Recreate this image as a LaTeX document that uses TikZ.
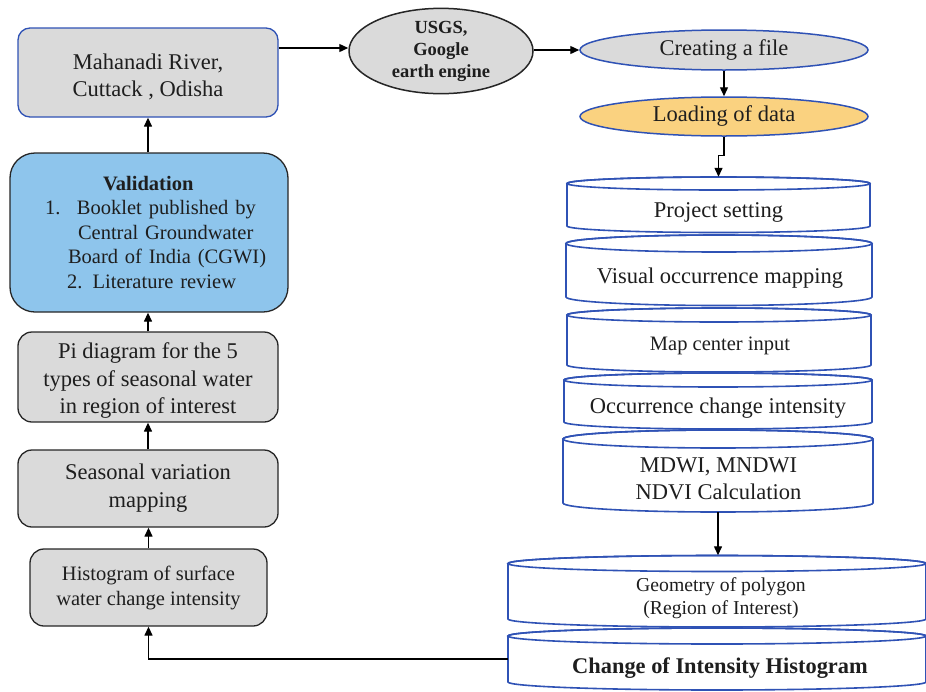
\documentclass[tikz,border=0pt]{standalone}
\usepackage{fontspec}
\setmainfont{Liberation Serif}
\usetikzlibrary{arrows.meta,shapes.geometric}
\definecolor{boxgray}{HTML}{DADADA}
\definecolor{valblue}{HTML}{8EC5EC}
\definecolor{loadorange}{HTML}{FAD280}
\definecolor{edgeblue}{HTML}{2F52B5}
\definecolor{txt}{HTML}{1E1E1E}
% #1 name, #2 x1, #3 x2, #4 y of top ellipse centre, #5 y of bottom arc centre, #6 ellipse y radius
\newcommand\cylbox[6]{%
  \pgfmathsetmacro\cxx{(#2+#3)/2}%
  \pgfmathsetmacro\rxx{(#3-#2)/2}%
  \pgfmathsetmacro\cyy{(#4+#5)/2}%
  \pgfmathsetmacro\hhh{#5-#4+2*#6}%
  \filldraw[cyl] (#2,#4) -- (#2,#5)
    arc[start angle=180,end angle=360,x radius=\rxx pt,y radius=#6pt]
    -- (#3,#4)
    arc[start angle=0,end angle=180,x radius=\rxx pt,y radius=#6pt] -- cycle;
  \draw[cyl,fill=none] (\cxx,#4) ellipse[x radius=\rxx pt,y radius=#6pt];
  \node[cylframe,minimum width=2*\rxx pt,minimum height=\hhh pt] (#1) at (\cxx,\cyy) {};%
}
\begin{document}
\begin{tikzpicture}[x=1pt,y=-1pt,
  lbox/.style={draw=black!85, line width=1.3pt, fill=boxgray, rounded corners=14pt,
    inner sep=0pt, align=center, text=txt},
  ellbox/.style={ellipse, draw=edgeblue, line width=1.5pt, inner sep=0pt, text=txt,
    font=\fontsize{22.5}{27}\selectfont},
  arr/.style={line width=1.3pt, draw=black, -{Triangle[length=9pt,width=8pt]}},
  cyl/.style={draw=edgeblue, line width=1.6pt, fill=white},
  cylframe/.style={inner sep=0pt, draw=none},
  cyltext/.style={anchor=base, inner sep=0pt, text=txt, align=center},
]
\useasboundingbox (0,0) rectangle (926,691);

% ---------- left column ----------
\node[lbox, draw=edgeblue, rounded corners=12pt, minimum width=260pt, minimum height=89pt,
  font=\fontsize{22.5}{27}\selectfont] (mah) at (148,72.5)
  {\rule{0pt}{23.5pt}Mahanadi River,\\Cuttack , Odisha};

\node[lbox, fill=valblue, rounded corners=25pt, minimum width=278pt, minimum height=159pt,
  text width=240pt, align=left, font=\fontsize{20.5}{24.5}\selectfont] (val) at (149,232.5)
  {\hspace*{74pt}\textbf{Validation}\\
   \hspace*{16pt}\makebox[32pt][l]{1.}Booklet published by\\
   \hspace*{49pt}Central Groundwater\\
   \hspace*{39pt}Board of India (CGWI)\\
   \hspace*{38pt}2. Literature review};

\node[lbox, minimum width=260pt, minimum height=90pt,
  font=\fontsize{22.5}{27.5}\selectfont] (pi) at (148,377)
  {\rule{0pt}{23pt}Pi diagram for the 5\\types of seasonal water\\in region of interest};

\node[lbox, minimum width=260pt, minimum height=77pt,
  font=\fontsize{22.5}{28}\selectfont] (seas) at (148,488.5)
  {Seasonal variation\\mapping};

\node[lbox, minimum width=237pt, minimum height=77pt,
  font=\fontsize{20.5}{25}\selectfont] (hist) at (148.5,587.5)
  {Histogram of surface\\water change intensity};

% ---------- top ellipses ----------
\node[ellbox, draw=black!85, fill=boxgray, minimum width=184pt, minimum height=82pt,
  align=center, font=\bfseries\fontsize{18.5}{22}\selectfont] (usgs) at (441,51)
  {USGS,\\Google\\earth engine};

\node[ellbox, fill=boxgray, minimum width=288pt, minimum height=40pt] (create) at (724,50)
  {Creating a file};
\node[ellbox, fill=loadorange, minimum width=288pt, minimum height=39pt] (load) at (724,116.5)
  {Loading of data};

% ---------- cylinders ----------
\cylbox{proj}{567}{870}{183.5}{226}{6.5}
\node[cyltext, font=\fontsize{22.5}{27}\selectfont] (projt) at (718.5,217) {Project setting};

\cylbox{vis}{566}{872}{243.5}{297}{8.5}
\node[cyltext, font=\fontsize{22.5}{27}\selectfont] (vist) at (720,283) {Visual occurrence mapping};

\cylbox{map}{567}{871}{315}{365}{7}
\node[cyltext, font=\fontsize{20.5}{25}\selectfont] (mapt) at (720,350) {Map center input};

\cylbox{occ}{564}{872}{380}{422}{7}
\node[cyltext, font=\fontsize{22.5}{27}\selectfont] (occt) at (718,413) {Occurrence change intensity};

\cylbox{mdwi}{563}{873}{439}{503}{9}
\node[cyltext, font=\fontsize{22.5}{27}\selectfont] (mdwit) at (718.5,499) {MDWI, MNDWI\\NDVI Calculation};

\cylbox{geo}{508}{926}{563.5}{619}{8}
\node[cyltext, font=\fontsize{19.7}{23}\selectfont] (geot) at (721,614) {Geometry of polygon\\(Region of Interest)};

\cylbox{chg}{508}{926}{636}{682}{8}
\node[cyltext, font=\bfseries\fontsize{22.4}{27}\selectfont] (chgt) at (720,673) {Change of Intensity Histogram};

% ---------- connectors ----------
\draw[arr] (mah.east |- 0,48) -- (usgs.west |- 0,48);
\draw[arr] (usgs.east |- 0,50) -- (create.west);
\draw[arr] (create.south) -- (load.north);
\draw[arr] (load.south) -- ++(0,19) -| (proj.north);
\draw[arr] (mdwi.south) -- (mdwi.south |- geo.north);
\draw[arr] (chg.west) -| (hist.south);
\draw[arr] (hist.north) -- (hist.north |- seas.south);
\draw[arr] (seas.north) -- (pi.south);
\draw[arr] (pi.north) -- (pi.north |- val.south);
\draw[arr] (val.north -| mah.south) -- (mah.south);
\end{tikzpicture}
\end{document}
